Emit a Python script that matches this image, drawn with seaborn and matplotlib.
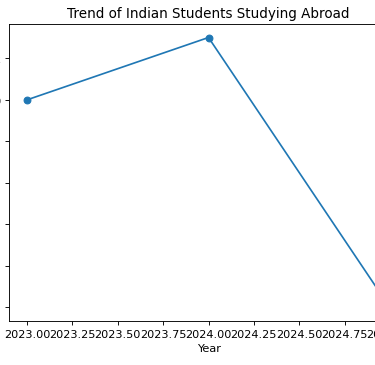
import matplotlib
matplotlib.use("Agg")
import matplotlib.pyplot as plt
import seaborn as sns
import pandas as pd

years = [2023, 2024, 2025]
students = [20, 23, 10]  # lakh (labels are outside the visible crop)

df = pd.DataFrame({"Year": years, "Students": students})

# the reference looks like a scaled-down render, so use a smaller dpi
DPI = 81
fig = plt.figure(figsize=(375 / DPI, 366 / DPI), dpi=DPI)
# the reference is a crop of a wider figure: axes run past the right edge
ax = fig.add_axes([9 / 375, 44 / 366, 399 / 375, 297 / 366])
sns.lineplot(data=df, x="Year", y="Students", marker="o",
             markeredgecolor="#1f77b4", markeredgewidth=1, ax=ax)
ax.set_title("Trend of Indian Students Studying Abroad")
ax.set_xlabel("Year")
ax.set_ylabel("Number of Students (in lakhs)")

fig.savefig("out.png", dpi=DPI)
